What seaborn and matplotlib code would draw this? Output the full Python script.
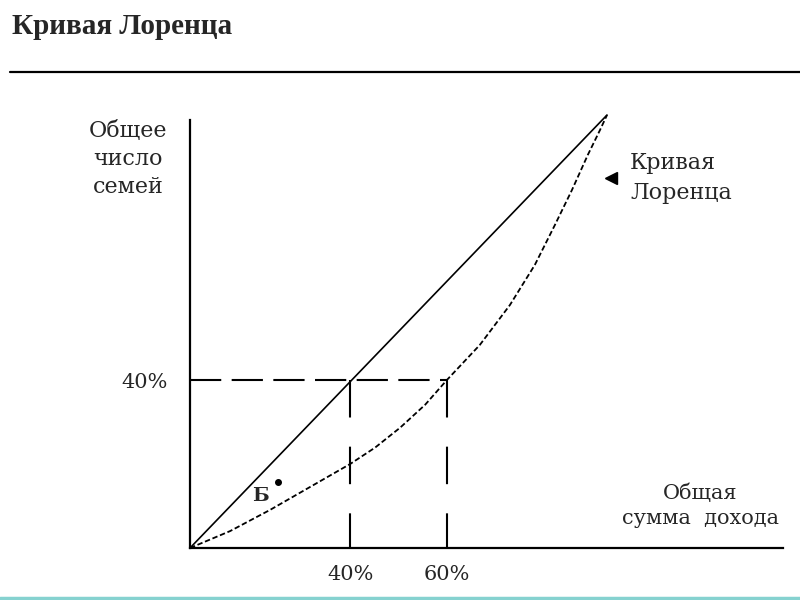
import matplotlib.pyplot as plt
import seaborn as sns
from matplotlib.lines import Line2D

# Lorenz curve (share of income vs share of families, %)
income_share = [0, 9.6, 19.2, 28.8, 38.4, 44.4, 50.4, 56.4, 61.6, 69.5, 76.7, 82.7, 87.5, 91.6, 95.4, 98.3, 100]
family_share = [0, 3.9, 8.8, 14.1, 19.4, 23.2, 27.8, 33.1, 38.8, 46.9, 56.1, 65.4, 74.6, 82.7, 90.8, 96.5, 100]

# line of perfect equality
equality_x = [0, 100]
equality_y = [0, 100]

# guide levels and their labels
x_marks = [38.4, 61.6]
x_mark_labels = ['40%', '60%']
y_marks = [38.8]
y_mark_labels = ['40%']

sns.set_style('white')
plt.rcParams['font.family'] = ['DejaVu Serif', 'DejaVu Sans']

W, H = 800, 600
fig = plt.figure(figsize=(8, 6), dpi=100)
ax = fig.add_axes([190 / W, 52 / H, 593 / W, 428 / H])

serif = 'DejaVu Serif'

# equality diagonal
sns.lineplot(x=equality_x, y=equality_y, ax=ax, color='black', lw=1.2,
             estimator=None, sort=False, clip_on=False)
# Lorenz curve
sns.lineplot(x=income_share, y=family_share, ax=ax, color='black', lw=1.3,
             linestyle=(0, (3, 1.5)), estimator=None, sort=False, clip_on=False)

# dashed guides
sns.lineplot(x=[0, x_marks[1]], y=[y_marks[0], y_marks[0]], ax=ax, color='black',
             lw=1.5, linestyle=(0, (15, 5)), estimator=None, sort=False)
for xm in x_marks:
    sns.lineplot(x=[xm, xm], y=[y_marks[0], 0], ax=ax, color='black',
                 lw=1.5, linestyle=(0, (18, 14)), estimator=None, sort=False)

ax.set_xlim(0, 142.2)
ax.set_ylim(0, 98.85)
for side in ['top', 'right']:
    ax.spines[side].set_visible(False)
for side in ['left', 'bottom']:
    ax.spines[side].set_color('black')
    ax.spines[side].set_linewidth(1.6)

ax.set_xticks(x_marks)
ax.set_xticklabels(x_mark_labels, fontsize=15, family=serif)
ax.set_yticks(y_marks)
ax.set_yticklabels(y_mark_labels, fontsize=15, family=serif)
ax.tick_params(length=0, pad=12)
ax.tick_params(axis='y', pad=16)

# annotations inside the plot
ax.text(17.0, 12.0, 'Б', fontsize=14, fontweight='bold', family=serif,
        ha='center', va='center')
ax.plot([21.1], [15.2], marker='o', ms=4, color='black')
ax.plot([100.9], [85.5], marker='<', ms=9, color='black', clip_on=False)

ax.text(105.5, 85.5, 'Кривая\nЛоренца', fontsize=16, family=serif,
        ha='left', va='center', linespacing=1.45)
ax.text(122.3, 9.8, 'Общая\nсумма  дохода', fontsize=15, family=serif,
        ha='center', va='center', linespacing=1.4)

fig.text(128 / W, 1 - 159 / H, 'Общее\nчисло\nсемей', fontsize=16, family=serif,
         ha='center', va='center', linespacing=1.35)

# header
fig.text(12 / W, 1 - 26 / H, 'Кривая Лоренца', fontsize=21, fontweight='bold',
         family='Liberation Serif', ha='left', va='center')
fig.add_artist(Line2D([10 / W, 1], [1 - 72 / H] * 2, color='black', lw=1.6))
fig.add_artist(Line2D([0, 1], [1 - 598 / H] * 2, color='#86d2d0', lw=2.5))

fig.savefig('out.png', dpi=100)
